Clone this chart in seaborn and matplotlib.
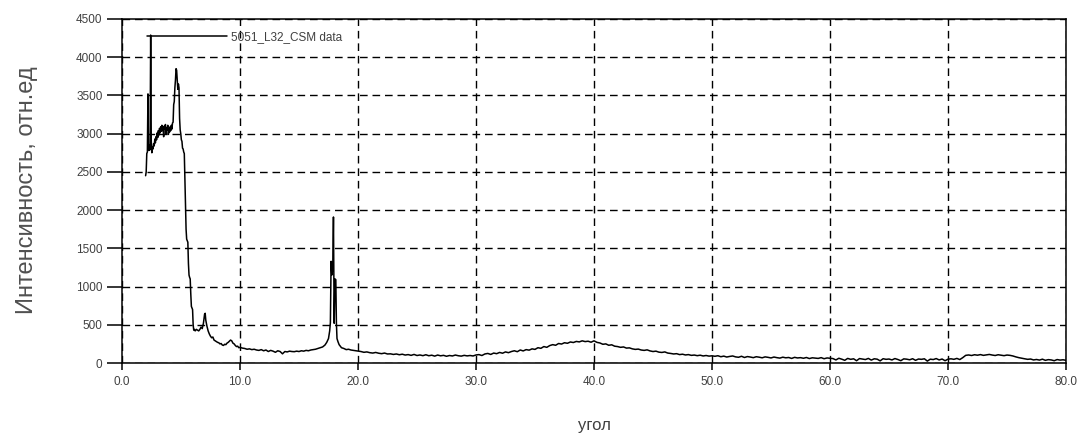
import matplotlib
matplotlib.use("Agg")
import matplotlib.pyplot as plt
import numpy as np
import pandas as pd
import seaborn as sns

# Low-angle region, read point by point (degrees, counts)
angle_low = [
    2.00, 2.05, 2.10, 2.15, 2.20, 2.24, 2.28, 2.33, 2.38, 2.43,
    2.48, 2.53, 2.58, 2.63, 2.68, 2.73, 2.78, 2.83, 2.88, 2.93,
    2.98, 3.03, 3.08, 3.13, 3.18, 3.23, 3.28, 3.33, 3.38, 3.43,
    3.48, 3.53, 3.58, 3.63, 3.68, 3.73, 3.78, 3.83, 3.88, 3.93,
    3.98, 4.03, 4.08, 4.13, 4.18, 4.23, 4.28, 4.33, 4.38, 4.43,
    4.48, 4.53, 4.58, 4.63, 4.68, 4.73, 4.78, 4.83, 4.88, 4.93,
    4.98, 5.03, 5.08, 5.13, 5.18, 5.23, 5.28, 5.33, 5.38, 5.43,
    5.48, 5.53, 5.58, 5.63, 5.68, 5.73, 5.78, 5.83, 5.88, 5.93,
    5.98, 6.03, 6.08, 6.13, 6.20, 6.30, 6.40, 6.50, 6.60, 6.70,
    6.80, 6.90, 7.00, 7.05, 7.10, 7.20, 7.30, 7.40, 7.50, 7.60,
    7.70, 7.80, 7.90, 8.00, 8.10, 8.20, 8.30, 8.40, 8.50, 8.60,
    8.70, 8.80, 8.90, 9.00, 9.10, 9.20, 9.30, 9.40, 9.50, 9.60,
    9.70, 9.80, 9.90, 10.00, 10.20, 10.40, 10.60, 10.80, 11.00, 11.20,
    11.40, 11.60, 11.80, 12.00, 12.20, 12.40, 12.60, 12.80, 13.00, 13.20,
    13.40, 13.60, 13.80, 14.00, 14.20, 14.40, 14.60, 14.80, 15.00, 15.20,
    15.40, 15.60, 15.80, 16.00, 16.20, 16.40, 16.60, 16.80, 17.00, 17.20,
    17.35, 17.50, 17.60, 17.66, 17.72, 17.78, 17.82, 17.86, 17.92, 17.98,
    18.05, 18.12, 18.17, 18.22, 18.30, 18.40, 18.50, 18.60, 18.80, 19.00,
    19.20, 19.40, 19.60, 19.80, 20.00,
]
intensity_low = [
    2450, 2500, 2740, 2760, 3520, 2820, 2780, 2850, 2790, 4290,
    2900, 2750, 2820, 2800, 2870, 2840, 2930, 2880, 2960, 2920,
    3010, 2950, 3040, 2980, 3070, 3010, 3090, 3030, 3110, 3040,
    3090, 2960, 3100, 3060, 3120, 3000, 3080, 3050, 3110, 2990,
    3060, 3020, 3090, 3040, 3110, 3060, 3140, 3150, 3380, 3420,
    3600, 3700, 3850, 3830, 3700, 3580, 3650, 3600, 3200, 3050,
    3000, 2920, 2900, 2810, 2800, 2760, 2740, 2400, 2000, 1750,
    1620, 1600, 1580, 1300, 1150, 1120, 1100, 900, 740, 720,
    700, 500, 430, 440, 420, 440, 430, 420, 440, 470,
    450, 520, 640, 650, 560, 480, 420, 380, 350, 330,
    340, 300, 290, 280, 270, 265, 250, 255, 235, 230,
    245, 240, 260, 270, 285, 300, 290, 260, 250, 230,
    215, 220, 200, 205, 195, 190, 180, 185, 175, 180,
    170, 165, 175, 160, 170, 150, 165, 155, 140, 160,
    150, 120, 150, 145, 155, 150, 148, 155, 150, 160,
    155, 165, 160, 170, 175, 180, 190, 200, 210, 235,
    270, 320, 420, 530, 1330, 1150, 1320, 1200, 1910, 520,
    1100, 1090, 520, 320, 280, 240, 220, 200, 190, 175,
    180, 170, 165, 160, 155,
]

# 20.25 .. 80.0 deg, 0.25 deg step scan
angle_high = [round(20.25 + 0.25 * i, 2) for i in range(240)]
intensity_high = [
    150, 140, 145, 135, 130, 138, 128, 122, 130, 118,
    120, 112, 118, 108, 115, 104, 110, 100, 112, 98,
    105, 96, 108, 95, 102, 90, 104, 94, 100, 88,
    98, 92, 104, 95, 90, 100, 93, 98, 92, 105,
    110, 98, 118, 125, 112, 130, 122, 138, 128, 145,
    135, 150, 160, 148, 170, 158, 175, 168, 185, 178,
    200, 192, 215, 205, 228, 240, 232, 255, 248, 265,
    258, 275, 268, 282, 276, 290, 280, 285, 272, 290,
    270, 262, 245, 250, 232, 238, 220, 215, 205, 210,
    195, 198, 185, 178, 182, 170, 165, 172, 158, 150,
    155, 142, 138, 145, 130, 125, 118, 122, 110, 115,
    105, 110, 100, 104, 96, 102, 92, 98, 90, 94,
    88, 95, 82, 90, 78, 86, 92, 80, 75, 88,
    72, 84, 78, 70, 82, 76, 68, 80, 74, 66,
    78, 70, 64, 76, 68, 72, 60, 74, 66, 70,
    62, 72, 58, 68, 64, 60, 70, 56, 66, 62,
    58, 40, 62, 50, 35, 60, 48, 55, 30, 58,
    52, 45, 60, 38, 55, 50, 28, 56, 48, 52,
    40, 58, 46, 30, 54, 50, 42, 56, 35, 52,
    48, 55, 25, 50, 45, 58, 40, 52, 30, 50,
    55, 48, 60, 45, 70, 100, 105, 98, 108, 102,
    110, 100, 106, 112, 104, 98, 108, 102, 96, 104,
    100, 92, 80, 70, 62, 55, 48, 52, 40, 46,
    38, 50, 35, 44, 40, 30, 45, 38, 42, 35,
]

x_ticks = [0, 10, 20, 30, 40, 50, 60, 70, 80]
x_tick_labels = ["0.0", "10.0", "20.0", "30.0", "40.0", "50.0", "60.0", "70.0", "80.0"]
y_ticks = [0, 500, 1000, 1500, 2000, 2500, 3000, 3500, 4000, 4500]
series_name = "5051_L32_CSM data"

df = pd.DataFrame({
    "angle": angle_low + angle_high,
    "intensity": intensity_low + intensity_high,
})

sns.set_style("white")
plt.rcParams["font.family"] = ["Liberation Sans", "DejaVu Sans"]
text_color = "#404040"

fig = plt.figure(figsize=(10.83, 4.44), dpi=100)
ax = fig.add_axes([122 / 1083, 1 - 363 / 444, 944 / 1083, 344 / 444])

sns.lineplot(data=df, x="angle", y="intensity", ax=ax, color="black",
             linewidth=1.1, label=series_name, sort=False, estimator=None)

ax.set_xlim(0, 80)
ax.set_ylim(0, 4500)
ax.set_xticks(x_ticks)
ax.set_xticklabels(x_tick_labels)
ax.set_yticks(y_ticks)

ax.grid(True, color="black", linestyle=(0, (5.5, 3.5)), linewidth=1.0)
for s in ax.spines.values():
    s.set_color("black")
    s.set_linewidth(1.1)

ax.tick_params(axis="x", bottom=True, direction="out", length=5, width=1.1,
               color="black", labelsize=8.5, labelcolor=text_color, pad=4)
ax.tick_params(axis="y", left=True, direction="out", length=11, width=1.1,
               color="black", labelsize=8.5, labelcolor=text_color, pad=3)

ax.set_xlabel("угол", fontsize=12, color=text_color, labelpad=22)
ax.set_ylabel("Интенсивность, отн.ед", fontsize=17, color="#505050")
ax.yaxis.set_label_coords(-0.089, 0.503)

leg = ax.legend(loc="upper left", bbox_to_anchor=(0.0265, 0.965), frameon=False,
                fontsize=8.5, handlelength=6.8, handletextpad=0.35, borderpad=0,
                borderaxespad=0)
for t in leg.get_texts():
    t.set_color(text_color)

fig.savefig("out.png", dpi=100)
